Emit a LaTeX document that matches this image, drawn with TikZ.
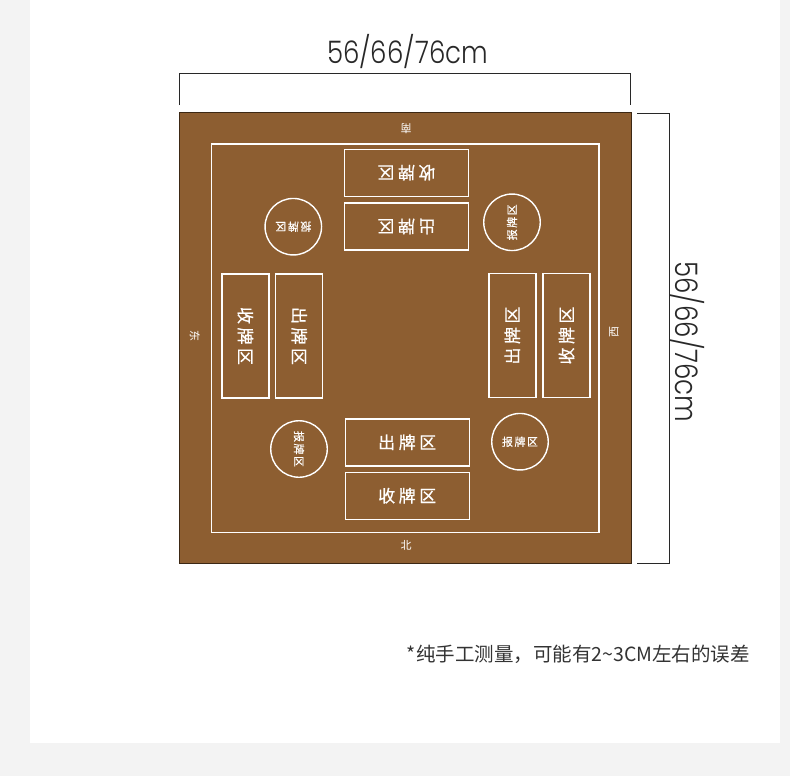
\documentclass[tikz,border=0pt]{standalone}
\usepackage{fontspec}
\setmainfont{Noto Sans CJK SC}
\newfontfamily\cjk{Noto Sans CJK SC}
\newfontfamily\cjkb{Noto Sans CJK SC}[FakeBold=0.6]
\newfontfamily\dimfont{Poppins}[UprightFont={* Light}]
\definecolor{bggray}{RGB}{243,243,243}
\definecolor{mat}{RGB}{141,94,49}
\definecolor{matedge}{RGB}{60,40,20}
\definecolor{dimink}{RGB}{40,40,40}
\definecolor{noteink}{RGB}{51,51,51}
\tikzset{
  zonebox/.style={draw=white, line width=1.4pt, minimum width=124pt, minimum height=47pt, inner sep=0pt, text=white, font=\cjkb\fontsize{17}{17}\selectfont},
  callcircle/.style={draw=white, circle, line width=1.4pt, minimum size=56.5pt, inner sep=0pt, text=white, font=\cjkb\fontsize{11}{11}\selectfont},
  sidelabel/.style={text=white, inner sep=0pt, font=\cjk\fontsize{11}{11}\selectfont},
  dimtext/.style={text=dimink, inner sep=0pt, font=\dimfont\fontsize{31}{31}\selectfont},
  dimline/.style={draw=dimink, line width=1pt}
}
\newcommand{\bigsp}{\hspace{3.5pt}}
\newcommand{\smsp}{\hspace{1.5pt}}
\begin{document}
\begin{tikzpicture}[x=1pt,y=-1pt]
\fill[bggray] (0,0) rectangle (790,776);
\fill[white] (30,0) rectangle (780,743);
\useasboundingbox (0,0) rectangle (790,776);
% mat
\node[draw=matedge, fill=mat, line width=0.8pt, minimum width=452pt, minimum height=451pt, inner sep=0pt] (mat) at (405,337.5) {};
\node[draw=white, line width=1.4pt, minimum width=387.5pt, minimum height=388.5pt, inner sep=0pt] (inner) at (405.3,338.3) {};
% side labels
\node[sidelabel, rotate=180] (south) at (406,129) {南};
\node[sidelabel] (north) at (406,545) {北};
\node[sidelabel, rotate=-90] (east) at (195,336) {东};
\node[sidelabel, rotate=90] (west) at (614,332) {西};
% boxes
\node[zonebox, rotate=180] (topshou) at (406.5,172.7) {收\bigsp 牌\bigsp 区};
\node[zonebox, rotate=180] (topchu) at (406.5,226.5) {出\bigsp 牌\bigsp 区};
\node[zonebox, rotate=-90] (leftshou) at (245.4,336) {收\bigsp 牌\bigsp 区};
\node[zonebox, rotate=-90] (leftchu) at (299.2,336) {出\bigsp 牌\bigsp 区};
\node[zonebox, rotate=90] (rightchu) at (512.3,335.5) {出\bigsp 牌\bigsp 区};
\node[zonebox, rotate=90] (rightshou) at (566.5,335.5) {收\bigsp 牌\bigsp 区};
\node[zonebox] (botchu) at (407.2,442.3) {出\bigsp 牌\bigsp 区};
\node[zonebox] (botshou) at (407.2,495.7) {收\bigsp 牌\bigsp 区};
% circles
\node[callcircle, rotate=180] (ctl) at (293.3,226.7) {报\smsp 牌\smsp 区};
\node[callcircle, rotate=90] (ctr) at (512,222.3) {报\smsp 牌\smsp 区};
\node[callcircle, rotate=-90] (cbl) at (299,449) {报\smsp 牌\smsp 区};
\node[callcircle] (cbr) at (520,441.7) {报\smsp 牌\smsp 区};
% dimensions
\coordinate (wa) at (179.5,105);
\coordinate (wb) at (179.5,73.5);
\coordinate (wc) at (630,73.5);
\coordinate (wd) at (630,105);
\draw[dimline] (wa) -- (wb) -- (wc) -- (wd);
\node[dimtext, xscale=0.84] (wlabel) at (407.5,51.5) {56/66/76cm};
\coordinate (ha) at (637,113);
\coordinate (hb) at (669,113);
\coordinate (hc) at (669,563);
\coordinate (hd) at (637,563);
\draw[dimline] (ha) -- (hb) -- (hc) -- (hd);
\node[dimtext, rotate=-90, xscale=0.84] (hlabel) at (687,342) {56/66/76cm};
% note
\node[anchor=east, inner sep=0pt, text=noteink, font=\cjk\fontsize{19.5}{19.5}\selectfont] (note) at (750,654) {*纯手工测量，可能有2\textasciitilde 3CM左右的误差};
\end{tikzpicture}
\end{document}
